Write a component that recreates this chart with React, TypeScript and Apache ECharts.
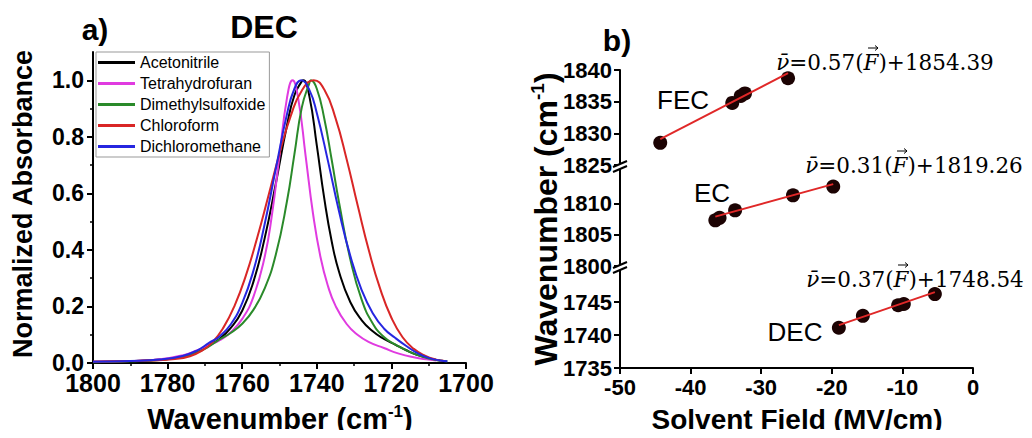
import React, { useEffect, useRef } from "react";
import * as echarts from "echarts";

// ---------- Data ----------
const solvents = ["Acetonitrile", "Tetrahydrofuran", "Dimethylsulfoxide", "Chloroform", "Dichloromethane"];
const solventColors = ["#000000", "#e03be0", "#2a8a2a", "#d92626", "#2626e0"];

// [wavenumber (cm-1), normalized absorbance]
const acetonitrile: number[][] = [
  [1800, 0.004], [1790, 0.007], [1782, 0.012], [1776, 0.022], [1772, 0.04], [1769, 0.062], [1766, 0.086],
  [1763, 0.125], [1760, 0.185], [1757, 0.287], [1754, 0.44], [1751, 0.634], [1748, 0.84], [1746, 0.947],
  [1744, 0.997], [1743.6, 1.0], [1742, 0.944], [1740, 0.77], [1738, 0.582], [1736, 0.43], [1734, 0.321],
  [1731, 0.215], [1728, 0.152], [1725, 0.112], [1722, 0.085], [1719, 0.065], [1716, 0.045], [1713, 0.028],
  [1710, 0.016], [1707, 0.009],
];
const tetrahydrofuran: number[][] = [
  [1800, 0.004], [1790, 0.007], [1782, 0.013], [1776, 0.027], [1772, 0.045], [1769, 0.062], [1766, 0.081],
  [1763, 0.11], [1760, 0.156], [1757, 0.234], [1754, 0.374], [1752, 0.527], [1750, 0.733], [1748, 0.937],
  [1746.5, 1.0], [1745, 0.937], [1743, 0.733], [1741, 0.527], [1739, 0.374], [1737, 0.272], [1735, 0.203],
  [1732, 0.138], [1729, 0.099], [1726, 0.074], [1722, 0.053], [1718, 0.033], [1714, 0.02], [1710, 0.012],
  [1708, 0.009],
];
const dimethylsulfoxide: number[][] = [
  [1800, 0.003], [1790, 0.006], [1782, 0.011], [1776, 0.022], [1772, 0.038], [1769, 0.058], [1766, 0.084],
  [1763, 0.107], [1760, 0.139], [1757, 0.188], [1754, 0.263], [1751, 0.383], [1748, 0.572], [1746, 0.739],
  [1744, 0.905], [1742, 0.99], [1741.6, 1.0], [1740, 0.97], [1738, 0.865], [1736, 0.718], [1734, 0.565],
  [1731, 0.366], [1728, 0.225], [1725, 0.14], [1722, 0.092], [1719, 0.066], [1716, 0.045], [1713, 0.028],
  [1710, 0.016], [1707, 0.009], [1705, 0.006],
];
const chloroform: number[][] = [
  [1800, 0.004], [1790, 0.007], [1785, 0.009], [1778, 0.014], [1774, 0.024], [1771, 0.042], [1768, 0.073],
  [1765, 0.126], [1762, 0.204], [1759, 0.31], [1756, 0.442], [1753, 0.59], [1750, 0.741], [1747, 0.873],
  [1744, 0.964], [1740.8, 1.0], [1738, 0.967], [1735, 0.867], [1732, 0.721], [1729, 0.555], [1726, 0.396],
  [1723, 0.262], [1720, 0.16], [1717, 0.091], [1714, 0.05], [1711, 0.026], [1708, 0.012], [1706, 0.008],
];
const dichloromethane: number[][] = [
  [1800, 0.004], [1790, 0.007], [1782, 0.012], [1776, 0.025], [1772, 0.045], [1769, 0.07], [1766, 0.095],
  [1763, 0.138], [1760, 0.212], [1757, 0.326], [1754, 0.49], [1751, 0.686], [1748, 0.88], [1746, 0.97],
  [1744.2, 1.0], [1742, 0.966], [1740, 0.884], [1737, 0.714], [1734, 0.534], [1731, 0.378], [1728, 0.259],
  [1725, 0.176], [1722, 0.122], [1719, 0.089], [1716, 0.06], [1713, 0.035], [1710, 0.018], [1707, 0.009],
  [1705, 0.006],
];
const spectra = [acetonitrile, tetrahydrofuran, dimethylsulfoxide, chloroform, dichloromethane];

const absTicks = [0, 0.2, 0.4, 0.6, 0.8, 1.0];

// Panel b: solvent field (MV/cm) vs peak wavenumber (cm-1)
const fecField = [-44.3, -34.1, -32.9, -32.3, -26.2];
const fecWn = [1828.5, 1834.8, 1835.9, 1836.3, 1838.7];
const ecField = [-36.5, -35.9, -33.7, -25.5, -19.8];
const ecWn = [1807.3, 1807.7, 1808.9, 1811.3, 1812.7];
const decField = [-19.0, -15.6, -10.6, -9.8, -5.4];
const decWn = [1741.1, 1742.9, 1744.5, 1744.7, 1746.2];

const fecFit = [[-44.3, 1829.1], [-26.2, 1839.5]];
const ecFit = [[-36.5, 1807.9], [-19.8, 1813.1]];
const decFit = [[-19.0, 1741.5], [-5.4, 1746.5]];

const fecEq = { slope: "0.57", intercept: "1854.39" };
const ecEq = { slope: "0.31", intercept: "1819.26" };
const decEq = { slope: "0.37", intercept: "1748.54" };

const topTicks = [1825, 1830, 1835, 1840];
const midTicks = [1800, 1805, 1810];
const botTicks = [1735, 1740, 1745];

// ---------- Styles ----------
const SANS = '"Liberation Sans", Arial, sans-serif';
const SERIF = '"DejaVu Serif", "Liberation Serif", serif';

function zip(a: number[], b: number[]) {
  return a.map((v, i) => [v, b[i]]);
}

let measureCtx: CanvasRenderingContext2D | null = null;
function measure(text: string, font: string) {
  if (!measureCtx) measureCtx = document.createElement("canvas").getContext("2d");
  if (!measureCtx) return text.length * 12;
  measureCtx.font = font;
  return measureCtx.measureText(text).width;
}

export default function App() {
  const ref = useRef<HTMLDivElement>(null);

  useEffect(() => {
    if (!ref.current) return;
    const chart = echarts.init(ref.current, undefined, { renderer: "svg" });

    const axisLine = { show: true, onZero: false, lineStyle: { color: "#000", width: 2 } };
    const tick = (vals?: number[]) => ({
      show: true,
      length: 6,
      lineStyle: { color: "#000", width: 2 },
      ...(vals ? { customValues: vals } : {}),
    });
    const boldLabel = (size: number, margin: number, vals?: number[], fmt?: any) => ({
      show: true,
      color: "#000",
      fontFamily: SANS,
      fontWeight: "bold",
      fontSize: size,
      margin,
      formatter: fmt || ((v: number) => String(v)),
      ...(vals ? { customValues: vals } : {}),
    });

    const rightY = (grid: number, min: number, max: number, vals: number[]) => ({
      gridIndex: grid,
      type: "value",
      min,
      max,
      interval: 5,
      axisLine,
      axisTick: tick(vals),
      axisLabel: boldLabel(22, 8, vals),
      splitLine: { show: false },
    });
    const rightX = (grid: number, show: boolean) => ({
      gridIndex: grid,
      type: "value",
      min: -50,
      max: 0,
      interval: 10,
      show,
      axisLine,
      axisTick: tick(),
      axisLabel: boldLabel(22, 8),
      splitLine: { show: false },
    });

    // equation "ν̄=0.57(F⃗)+1854.39" built from measured pieces
    const EQ_SIZE = 21.5;
    const eqGroup = (eq: { slope: string; intercept: string }, cx: number, cy: number) => {
      const fontN = `${EQ_SIZE}px ${SERIF}`;
      const fontI = `italic ${EQ_SIZE}px ${SERIF}`;
      const pieces = [
        { t: "\u03BD\u0304", f: fontI },
        { t: `=${eq.slope}(`, f: fontN },
        { t: "F", f: fontI },
        { t: `)+${eq.intercept}`, f: fontN },
      ];
      const widths = pieces.map((p) => measure(p.t, p.f));
      const total = widths.reduce((a, b) => a + b, 0);
      let x = cx - total / 2;
      const children: any[] = [];
      let fCenter = 0;
      pieces.forEach((p, i) => {
        children.push({
          type: "text",
          x,
          y: cy,
          style: { text: p.t, font: p.f, fill: "#000", align: "left", verticalAlign: "middle", textAlign: "left", textVerticalAlign: "middle" },
        });
        if (i === 2) fCenter = x + widths[i] / 2 + 2;
        x += widths[i];
      });
      const ay = cy - 14;
      children.push({
        type: "line",
        shape: { x1: fCenter - 5, y1: ay, x2: fCenter + 5, y2: ay },
        style: { stroke: "#000", lineWidth: 1 },
      });
      children.push({
        type: "polyline",
        shape: { points: [[fCenter + 2, ay - 2.5], [fCenter + 5, ay], [fCenter + 2, ay + 2.5]] },
        style: { stroke: "#000", lineWidth: 1, fill: "none" },
      });
      return { type: "group", children };
    };

    const titleStyle = (text: string, size = 27) => ({
      text,
      font: `bold ${size}px ${SANS}`,
      fill: "#000",
      align: "center",
      verticalAlign: "middle",
      textAlign: "center",
      textVerticalAlign: "middle",
      rich: {
        b: { fontFamily: SANS, fontWeight: "bold", fontSize: size, lineHeight: size + 4, fill: "#000", color: "#000" },
        sup: {
          fontFamily: SANS,
          fontWeight: "bold",
          fontSize: Math.round(size * 0.6),
          lineHeight: Math.round(size * 0.6),
          verticalAlign: "top",
          fill: "#000",
          color: "#000",
        },
      },
    });

    const plainText = (text: string, x: number, y: number) => ({
      type: "text",
      x,
      y,
      style: { text, font: `26px ${SANS}`, fill: "#000", align: "center", verticalAlign: "middle", textAlign: "center", textVerticalAlign: "middle" },
    });

    const breakMark = (x: number, y: number) => ({
      type: "group",
      children: [
        { type: "rect", shape: { x: x - 3, y: y - 3, width: 6, height: 5 }, style: { fill: "#fff" }, z: 100 },
        { type: "line", shape: { x1: x - 7, y1: y, x2: x + 7, y2: y - 6 }, style: { stroke: "#000", lineWidth: 2 }, z: 101 },
        { type: "line", shape: { x1: x - 7, y1: y + 5, x2: x + 7, y2: y - 1 }, style: { stroke: "#000", lineWidth: 2 }, z: 101 },
      ],
    });

    const option: any = {
      animation: false,
      backgroundColor: "#fff",
      legend: {
        data: solvents,
        orient: "vertical",
        left: 96,
        top: 52,
        icon: "rect",
        itemWidth: 37,
        itemHeight: 3,
        itemGap: 0,
        padding: [0, 4, 0, 2],
        borderColor: "#999",
        borderWidth: 1,
        textStyle: { fontFamily: SANS, fontSize: 16, color: "#000", lineHeight: 21 },
      },
      grid: [
        { left: 93, top: 52, width: 373, height: 311 },
        { left: 620, top: 70, width: 353, height: 95 },
        { left: 620, top: 166, width: 353, height: 100 },
        { left: 620, top: 269, width: 353, height: 99 },
      ],
      xAxis: [
        {
          gridIndex: 0,
          type: "value",
          min: 1700,
          max: 1800,
          interval: 20,
          inverse: true,
          axisLine,
          axisTick: tick(),
          minorTick: { show: true, splitNumber: 2, length: 3, lineStyle: { color: "#000", width: 1.5 } },
          axisLabel: boldLabel(25, 7),
          splitLine: { show: false },
        },
        rightX(1, false),
        rightX(2, false),
        rightX(3, true),
      ],
      yAxis: [
        {
          gridIndex: 0,
          type: "value",
          min: 0,
          max: 1.1,
          interval: 0.2,
          axisLine,
          axisTick: tick(absTicks),
          minorTick: { show: true, splitNumber: 2, length: 3, lineStyle: { color: "#000", width: 1.5 } },
          axisLabel: boldLabel(23, 9, absTicks, (v: number) => v.toFixed(1)),
          splitLine: { show: false },
        },
        rightY(1, 1825, 1840, topTicks),
        rightY(2, 1800, 1816, midTicks),
        rightY(3, 1735, 1750, botTicks),
      ],
      series: [
        ...spectra.map((d, i) => ({
          name: solvents[i],
          type: "line",
          xAxisIndex: 0,
          yAxisIndex: 0,
          data: d,
          showSymbol: false,
          symbol: "none",
          smooth: 0.5,
          lineStyle: { color: solventColors[i], width: 2 },
          itemStyle: { color: solventColors[i] },
          z: 2,
        })),
        ...[
          [fecField, fecWn, fecFit, 1],
          [ecField, ecWn, ecFit, 2],
          [decField, decWn, decFit, 3],
        ].flatMap(([fx, wy, fit, g]: any) => [
          {
            type: "scatter",
            xAxisIndex: g,
            yAxisIndex: g,
            data: zip(fx, wy),
            symbolSize: 14,
            itemStyle: { color: "#1c0303", opacity: 1 },
            z: 2,
          },
          {
            type: "line",
            xAxisIndex: g,
            yAxisIndex: g,
            data: fit,
            symbol: "none",
            lineStyle: { color: "#e02828", width: 2 },
            z: 3,
          },
        ]),
      ],
      graphic: [
        { type: "text", x: 95, y: 29, style: titleStyle("a)", 30) },
        { type: "text", x: 264, y: 27, style: titleStyle("DEC", 32) },
        { type: "text", x: 617, y: 40, style: titleStyle("b)", 30) },
        { type: "text", x: 23, y: 204, rotation: Math.PI / 2, style: titleStyle("Normalized Absorbance") },
        { type: "text", x: 280, y: 419, style: titleStyle("{b|Wavenumber (cm}{sup|-1}{b|)}", 29) },
        { type: "text", x: 546, y: 219, rotation: Math.PI / 2, style: titleStyle("{b|Wavenumber (cm}{sup|-1}{b|)}", 32) },
        { type: "text", x: 797, y: 419, style: titleStyle("Solvent Field (MV/cm)", 28) },
        plainText("FEC", 683, 100),
        plainText("EC", 712, 193),
        plainText("DEC", 795, 332),
        eqGroup(fecEq, 885, 62),
        eqGroup(ecEq, 914, 165),
        eqGroup(decEq, 915, 279),
        breakMark(620, 167),
        breakMark(620, 268),
      ],
    };

    chart.setOption(option);
    return () => chart.dispose();
  }, []);

  return <div ref={ref} style={{ width: 1032, height: 438, margin: -8 }} />;
}
